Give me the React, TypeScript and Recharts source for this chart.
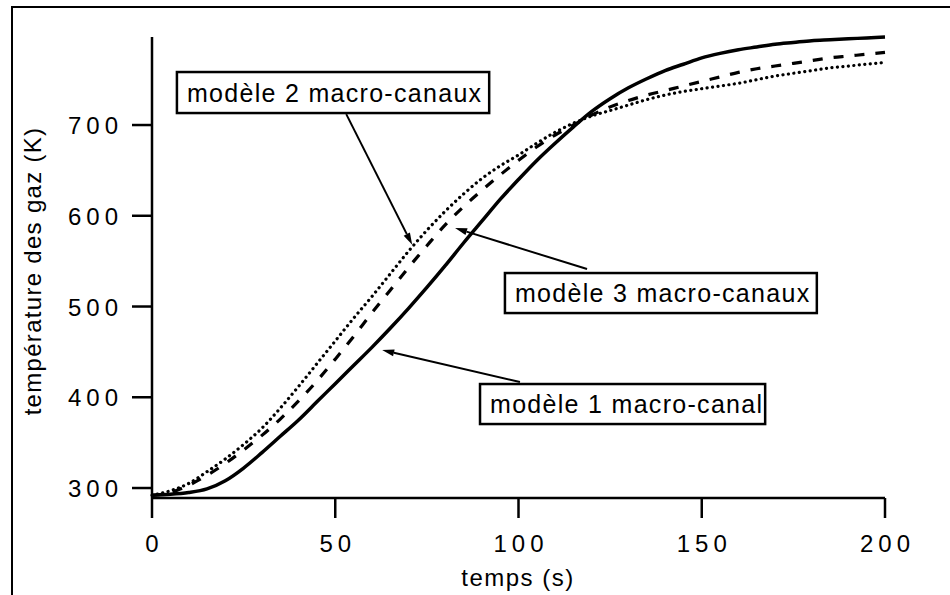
import React from 'react';
import { LineChart, Line, XAxis, YAxis, ReferenceArea, ReferenceLine } from 'recharts';

const FONT = '"Liberation Sans", Arial, Helvetica, sans-serif';

// temps (s)
const times = [0, 5, 10, 15, 20, 25, 30, 35, 40, 45, 50, 55, 60, 65, 70, 75, 80, 85, 90, 95, 100,
  105, 110, 115, 120, 125, 130, 135, 140, 145, 150, 155, 160, 165, 170, 175, 180, 185, 190, 195, 200];

// modèle 1 macro-canal (trait plein)
const model1 = [292, 293, 295, 299, 308, 322, 339, 357, 375, 395, 415, 435, 455, 476, 498, 521, 545, 570, 594, 618, 640,
  661, 680, 698, 715, 729, 741, 751, 760, 767, 774, 779, 783, 786, 789, 791, 793, 794, 795, 796, 797];

// modèle 2 macro-canaux (pointillé)
const model2 = [292, 297, 305, 318, 332, 348, 366, 388, 412, 437, 462, 487, 511, 536, 561, 584, 605, 624, 641, 655, 667,
  680, 692, 702, 710, 716, 722, 728, 733, 737, 740, 743, 746, 750, 754, 757, 760, 763, 765, 767, 769];

// modèle 3 macro-canaux (tirets)
const model3 = [292, 295, 303, 314, 327, 342, 358, 376, 396, 418, 442, 467, 493, 518, 543, 567, 590, 610, 628, 645, 661,
  676, 689, 700, 711, 720, 727, 733, 738, 743, 748, 753, 758, 762, 765, 768, 771, 774, 776, 778, 780];

const xTicks = [0, 50, 100, 150, 200];
const yTicks = [300, 400, 500, 600, 700];

const annotations = [
  { text: 'modèle 2 macro-canaux', box: { x1: 6.8, x2: 92.0, y1: 713.2, y2: 758.4 }, from: { x: 53.0, y: 712 }, to: { x: 71.0, y: 568 } },
  { text: 'modèle 3 macro-canaux', box: { x1: 96.3, x2: 181.4, y1: 492.8, y2: 536.9 }, from: { x: 118.7, y: 541.3 }, to: { x: 82.7, y: 586.5 } },
  { text: 'modèle 1 macro-canal', box: { x1: 89.5, x2: 167.3, y1: 370.5, y2: 414.6 }, from: { x: 100.4, y: 416.8 }, to: { x: 62.8, y: 452 } },
];

const data = times.map((t, i) => ({ t, m1: model1[i], m2: model2[i], m3: model3[i] }));

const XTick = (props: any) => {
  const { x, y, payload } = props;
  return (
    <text x={x + 2.5} y={y + 34} textAnchor="middle" fontSize={24} fontFamily={FONT} letterSpacing={5} fill="#000">
      {payload.value}
    </text>
  );
};

const YTick = (props: any) => {
  const { x, y, payload } = props;
  return (
    <text x={x - 9} y={y + 9} textAnchor="end" fontSize={24} fontFamily={FONT} letterSpacing={5} fill="#000">
      {payload.value}
    </text>
  );
};

const Arrow = (props: any) => {
  const { x1, y1, x2, y2 } = props;
  const ang = Math.atan2(y2 - y1, x2 - x1);
  const L = 12;
  const W = 3.5;
  const bx = x2 - L * Math.cos(ang);
  const by = y2 - L * Math.sin(ang);
  const px = -Math.sin(ang) * W;
  const py = Math.cos(ang) * W;
  return (
    <g>
      <line x1={x1} y1={y1} x2={bx} y2={by} stroke="#000" strokeWidth={2} />
      <polygon points={`${x2},${y2} ${bx + px},${by + py} ${bx - px},${by - py}`} fill="#000" />
    </g>
  );
};

const makeBox = (text: string) => (props: any) => {
  const { x, y, width, height } = props;
  return (
    <g>
      <rect x={x} y={y} width={width} height={height} fill="#fff" stroke="#000" strokeWidth={2.5} />
      <text x={x + 10} y={y + height / 2 + 9} fontSize={25} fontFamily={FONT} letterSpacing={1.3} fill="#000">
        {text}
      </text>
    </g>
  );
};

export default function App() {
  return (
    <div style={{ position: 'absolute', left: 0, top: 0, width: 950, height: 595, background: '#fff', overflow: 'hidden' }}>
      <div style={{ position: 'absolute', left: 11, top: 6, width: 960, height: 620, borderLeft: '2.5px solid #000', borderTop: '2.5px solid #000' }} />
      <div style={{ position: 'absolute', left: 0, top: 0 }}>
        <LineChart width={950} height={595} data={data} margin={{ top: 37, right: 65, bottom: 0, left: 0 }}>
          <XAxis
            dataKey="t"
            type="number"
            domain={[0, 200]}
            ticks={xTicks}
            height={97}
            tickSize={20}
            tickMargin={0}
            axisLine={{ stroke: '#000', strokeWidth: 2.5 }}
            tickLine={{ stroke: '#000', strokeWidth: 2.5 }}
            tick={<XTick />}
            label={() => (
              <text x={518} y={586} textAnchor="middle" fontSize={24} fontFamily={FONT} letterSpacing={1.5} fill="#000">
                temps (s)
              </text>
            )}
          />
          <YAxis
            type="number"
            domain={[289, 797]}
            ticks={yTicks}
            width={152}
            tickSize={20}
            tickMargin={0}
            axisLine={{ stroke: '#000', strokeWidth: 2.5 }}
            tickLine={{ stroke: '#000', strokeWidth: 2.5 }}
            tick={<YTick />}
            label={() => (
              <text x={41} y={271} transform="rotate(-90 41 271)" textAnchor="middle" fontSize={24} fontFamily={FONT} letterSpacing={1.3} fill="#000">
                température des gaz (K)
              </text>
            )}
          />
          <Line type="monotone" dataKey="m1" stroke="#000" strokeWidth={3.5} dot={false} isAnimationActive={false} />
          <Line type="monotone" dataKey="m3" stroke="#000" strokeWidth={3.2} strokeDasharray="10 11" dot={false} isAnimationActive={false} />
          <Line type="monotone" dataKey="m2" stroke="#000" strokeWidth={3.2} strokeDasharray="0.1 5.4" strokeLinecap="round" dot={false} isAnimationActive={false} />
          {annotations.map((a, i) => (
            <ReferenceArea key={'b' + i} x1={a.box.x1} x2={a.box.x2} y1={a.box.y1} y2={a.box.y2} ifOverflow="visible" shape={makeBox(a.text)} />
          ))}
          {annotations.map((a, i) => (
            <ReferenceLine key={'a' + i} segment={[a.from, a.to]} ifOverflow="visible" shape={(p: any) => <Arrow {...p} />} />
          ))}
        </LineChart>
      </div>
    </div>
  );
}
